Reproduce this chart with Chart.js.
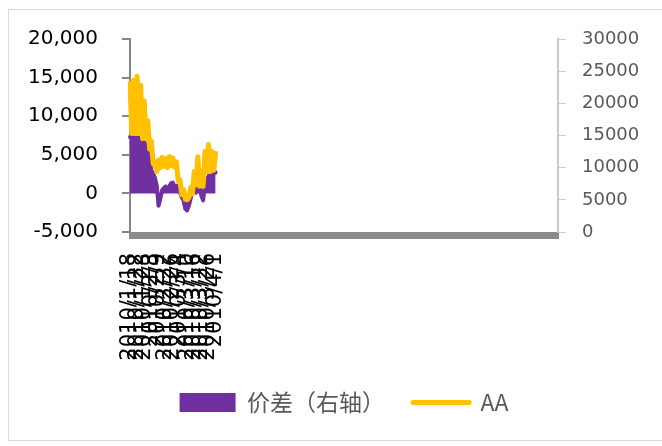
<!DOCTYPE html>
<html>
<head>
<meta charset="utf-8">
<script src="https://cdn.jsdelivr.net/npm/chart.js@4.4.0/dist/chart.umd.min.js"></script>
<style>
  html, body { margin: 0; padding: 0; background: #fff; }
</style>
</head>
<body>
<canvas id="chart" width="662" height="446"></canvas>
<script>
// trading days shown on the category axis
const dates = [
  '2010/1/18', '2010/1/19', '2010/1/20', '2010/1/21', '2010/1/22',
  '2010/1/25', '2010/1/26', '2010/1/27', '2010/1/28', '2010/1/29',
  '2010/2/1', '2010/2/2', '2010/2/3', '2010/2/4', '2010/2/5',
  '2010/2/8', '2010/2/9', '2010/2/10', '2010/2/11', '2010/2/12',
  '2010/2/22', '2010/2/23', '2010/2/24', '2010/2/25', '2010/2/26',
  '2010/3/1', '2010/3/2', '2010/3/3', '2010/3/4', '2010/3/5',
  '2010/3/8', '2010/3/9', '2010/3/10', '2010/3/11', '2010/3/12',
  '2010/3/15', '2010/3/16', '2010/3/17', '2010/3/18', '2010/3/19',
  '2010/3/22', '2010/3/23', '2010/3/24', '2010/3/25', '2010/3/26',
  '2010/3/29', '2010/3/30', '2010/3/31', '2010/4/1'
];
// empty categories after the data (the axis runs on with no values)
const blankCount = 192;

// 价差（右轴）
const spread = [
  7300, 7300, 7300, 7900, 8000, 8000, 7700, 7100, 6700, 5900,
  5400, 4100, 3000, 2500, 2000, 1000, -1600, -700, 400, 700,
  900, 400, 900, 1300, 1400, 700, 1000, 400, 100, -500,
  -900, -2000, -2200, -1600, -700, 400, 700, 100, 700, 900,
  -300, -900, 1000, 1700, 2200, 2600, 2700, 3000, 2700
];
// AA
const aa = [
  23100, 15300, 23600, 15300, 24200, 15300, 22800, 14500, 20400, 14500,
  17300, 12900, 14100, 10600, 10800, 9400, 11200, 10000, 11600, 10200,
  11400, 10000, 11700, 10300, 11500, 10100, 10900, 8000, 8100, 5800,
  6600, 5100, 5000, 5300, 6900, 5900, 9400, 7300, 11700, 7100,
  9400, 7100, 12500, 9400, 13600, 9400, 12500, 9600, 12200
];

const leftMin = -5000, leftMax = 20000, leftStep = 5000;
const rightMin = 0, rightMax = 30000, rightStep = 5000;
const labelEvery = 4;

const labels = dates.concat(new Array(blankCount).fill(''));

const frame = {
  id: 'frame',
  beforeDraw(chart) {
    const ctx = chart.ctx;
    ctx.save();
    ctx.strokeStyle = '#d9d9d9';
    ctx.lineWidth = 1;
    ctx.strokeRect(8.5, 9.5, 700, 431);
    ctx.restore();
  }
};

new Chart(document.getElementById('chart'), {
  type: 'line',
  data: {
    labels: labels,
    datasets: [{
      label: '价差（右轴）',
      data: spread,
      yAxisID: 'y',
      order: 1,
      borderColor: '#7030a0',
      backgroundColor: '#7030a0',
      borderWidth: 4,
      fill: 'origin',
      tension: 0,
      pointRadius: 0,
      pointStyle: 'rect',
      borderJoinStyle: 'round',
      borderCapStyle: 'round'
    }, {
      label: 'AA',
      data: aa,
      yAxisID: 'y1',
      order: 0,
      borderColor: '#ffc000',
      backgroundColor: '#ffc000',
      borderWidth: 5,
      fill: false,
      tension: 0,
      pointRadius: 0,
      pointStyle: 'line',
      borderJoinStyle: 'round',
      borderCapStyle: 'round'
    }]
  },
  options: {
    responsive: false,
    animation: false,
    layout: { padding: { top: 39, left: 0, right: 0, bottom: 22 } },
    scales: {
      x: {
        type: 'category',
        offset: false,
        grid: { drawOnChartArea: false, drawTicks: true, tickLength: 7, color: '#8c8c8c', lineWidth: 2 },
        border: { display: true, color: '#8c8c8c', width: 1 },
        ticks: {
          autoSkip: false,
          maxRotation: 90,
          minRotation: 90,
          padding: 14,
          color: '#000',
          font: { family: 'DejaVu Sans', size: 21 },
          callback: (v, i) => (i < dates.length && i % labelEvery === 0) ? dates[i] : ''
        },
        afterFit: s => { s.height = 131; }
      },
      y: {
        position: 'left',
        min: leftMin,
        max: leftMax,
        grid: { drawOnChartArea: false, drawTicks: true, tickLength: 8, color: '#868686', lineWidth: 2 },
        border: { display: true, color: '#868686', width: 2 },
        ticks: {
          stepSize: leftStep,
          padding: 24,
          color: '#000',
          font: { family: 'DejaVu Sans', size: 20 },
          callback: v => v.toLocaleString('en-US')
        },
        afterFit: s => { s.width = 130; }
      },
      y1: {
        position: 'right',
        min: rightMin,
        max: rightMax,
        grid: { drawOnChartArea: false, drawTicks: true, tickLength: 8, color: '#c8c8c8', lineWidth: 1 },
        border: { display: true, color: '#c8c8c8', width: 2 },
        ticks: {
          stepSize: rightStep,
          padding: 16,
          color: '#595959',
          font: { family: 'DejaVu Sans', size: 18 },
          callback: v => String(v)
        },
        afterFit: s => { s.width = 104; }
      }
    },
    plugins: {
      legend: {
        display: true,
        position: 'bottom',
        fullSize: false,
        labels: {
          usePointStyle: true,
          pointStyleWidth: 56,
          boxHeight: 19,
          padding: 28,
          color: '#595959',
          font: { family: 'Noto Sans CJK SC', size: 23 },
          sort: (a, b) => a.datasetIndex - b.datasetIndex,
          generateLabels: chart => {
            const items = Chart.defaults.plugins.legend.labels.generateLabels(chart);
            items.forEach(item => {
              const ds = chart.data.datasets[item.datasetIndex];
              if (ds.pointStyle === 'rect') {
                item.lineWidth = 0;
                item.fillStyle = ds.backgroundColor;
              } else {
                item.lineWidth = ds.borderWidth;
                item.strokeStyle = ds.borderColor;
                item.lineCap = 'round';
              }
            });
            return items;
          }
        }
      },
      tooltip: { enabled: false }
    }
  },
  plugins: [frame]
});
</script>
</body>
</html>
